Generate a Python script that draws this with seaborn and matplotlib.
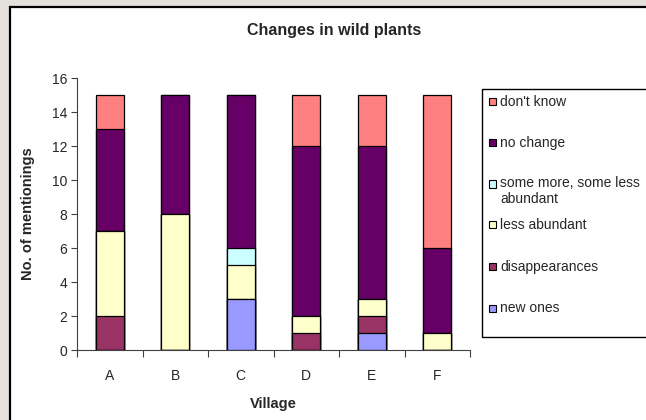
import numpy as np
import pandas as pd
import matplotlib
matplotlib.use('Agg')
import matplotlib.pyplot as plt
import matplotlib.patches as mpatches
import seaborn as sns

# data
villages = ['A', 'B', 'C', 'D', 'E', 'F']
new_ones = [0, 0, 3, 0, 1, 0]
disappearances = [2, 0, 0, 1, 1, 0]
less_abundant = [5, 8, 2, 1, 1, 1]
some_more_some_less = [0, 0, 1, 0, 0, 0]
no_change = [6, 7, 9, 10, 9, 5]
dont_know = [2, 0, 0, 3, 3, 9]

# bottom -> top stacking order
series_names = ['new ones', 'disappearances', 'less abundant',
                'some more, some less\nabundant', 'no change', "don't know"]
series_values = [new_ones, disappearances, less_abundant,
                 some_more_some_less, no_change, dont_know]
series_colors = ['#9999FF', '#993366', '#FFFFCC', '#CCFFFF', '#660066', '#FF8080']

W, H = 646, 420


def fx(px):
    return px / W


def fy(py):
    return 1 - py / H


sns.set_style('white')
plt.rcParams['font.family'] = ['Liberation Sans', 'DejaVu Sans']

fig = plt.figure(figsize=(6.46, 4.2), dpi=100)
fig.patch.set_facecolor('#e4e1dd')

# white chart frame (runs off the right and bottom edges)
frame = mpatches.Rectangle((fx(10), fy(480)), 1.2, fy(7) - fy(480),
                           transform=fig.transFigure, facecolor='white',
                           edgecolor='black', linewidth=1.6, zorder=0)
fig.add_artist(frame)

ax = fig.add_axes([fx(77), fy(350), fx(470) - fx(77), fy(78) - fy(350)])
ax.set_facecolor('none')

# cumulative stacks, drawn from the top segment down so lower ones overlay
cum = np.cumsum(np.array(series_values), axis=0)
for i in range(len(series_names) - 1, -1, -1):
    df = pd.DataFrame({'Village': villages, 'total': cum[i]})
    sns.barplot(data=df, x='Village', y='total', color=series_colors[i],
                width=0.43, saturation=1, edgecolor='black', linewidth=0.9,
                ax=ax)

ax.set_ylim(0, 16)
ax.set_yticks(range(0, 17, 2))
ax.set_xlim(-0.5, 5.5)
ax.set_xticks(range(len(villages)))
ax.set_xticklabels(villages)
ax.set_xticks(np.arange(-0.5, 6.0, 1.0), minor=True)
ax.tick_params(axis='x', which='major', length=0, pad=14, labelsize=10)
ax.tick_params(axis='x', which='minor', length=5, width=0.8, direction='out',
               color='#404040', bottom=True)
ax.tick_params(axis='y', length=4, width=0.8, direction='out', color='#404040',
               labelsize=10, left=True, pad=3)
for s in ['top', 'right']:
    ax.spines[s].set_visible(False)
for s in ['left', 'bottom']:
    ax.spines[s].set_color('#404040')
    ax.spines[s].set_linewidth(0.8)

ax.set_xlabel('Village', fontsize=10.5, fontweight='bold')
ax.set_ylabel('No. of mentionings', fontsize=10.5, fontweight='bold')
ax.xaxis.set_label_coords(0.5, -(397 - 350) / (350 - 78))
ax.yaxis.set_label_coords(-(77 - 35) / (470 - 77), 0.5)

fig.text(fx(334), fy(31), 'Changes in wild plants', ha='center',
         va='center', fontsize=11.5, fontweight='bold')

# legend box drawn by hand, like the spreadsheet one
legbox = mpatches.Rectangle((fx(482), fy(337)), 0.5, fy(89) - fy(337),
                            transform=fig.transFigure, facecolor='white',
                            edgecolor='black', linewidth=1.0, zorder=1)
fig.add_artist(legbox)
leg_rows = [101.5, 142.5, 184, 225, 266.5, 308]
for name, color, row in zip(series_names[::-1], series_colors[::-1], leg_rows):
    sq = mpatches.Rectangle((fx(488.5), fy(row + 3.5)), fx(7), fy(0) - fy(7),
                            transform=fig.transFigure, facecolor=color,
                            edgecolor='black', linewidth=0.8, zorder=2)
    fig.add_artist(sq)
    if '\n' in name:
        fig.text(fx(500), fy(row - 8), name, ha='left', va='top',
                 fontsize=10, linespacing=1.2, zorder=3)
    else:
        fig.text(fx(500), fy(row), name, ha='left', va='center',
                 fontsize=10, zorder=3)

fig.savefig('out.png', dpi=100)
